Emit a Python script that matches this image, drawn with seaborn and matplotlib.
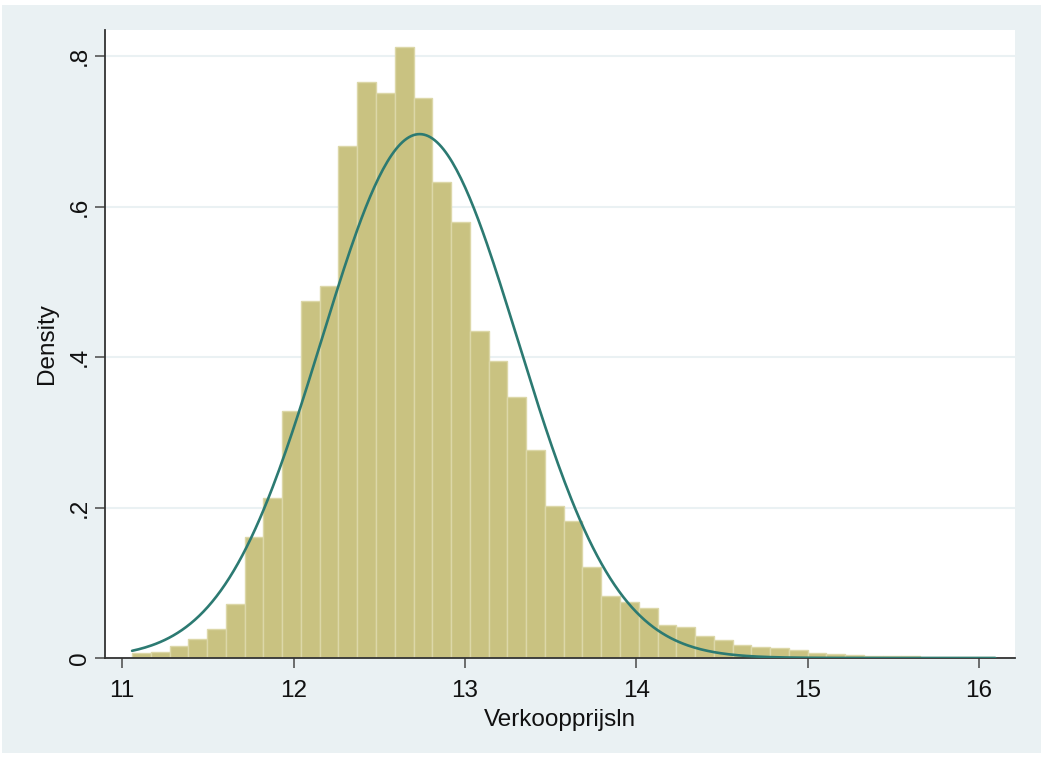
import numpy as np
import pandas as pd
import matplotlib
matplotlib.use("Agg")
import matplotlib.pyplot as plt
from matplotlib.patches import Rectangle
import seaborn as sns

# Histogram of log sale price (density scale), 46 equal-width bins
bin_start = 11.058
bin_width = 0.1095
density = [
    0.0062, 0.0084, 0.0164, 0.0257, 0.0385, 0.0713,
    0.1604, 0.2130, 0.3287, 0.4744, 0.4943,
    0.6808, 0.7659, 0.7504, 0.8124, 0.7438,
    0.6322, 0.5798, 0.4346, 0.3951, 0.3464,
    0.2764, 0.2020, 0.1820, 0.1205, 0.0828,
    0.0748, 0.0660, 0.0439, 0.0408, 0.0297,
    0.0235, 0.0173, 0.0150, 0.0129, 0.0106,
    0.0071, 0.0050, 0.0045, 0.0030, 0.0028,
    0.0025, 0.0015, 0.0013, 0.0012, 0.0015,
]

# Fitted normal distribution
mu = 12.736
sigma = 0.573

x_ticks = [11, 12, 13, 14, 15, 16]
y_ticks = [0, 0.2, 0.4, 0.6, 0.8]
y_ticklabels = ["0", ".2", ".4", ".6", ".8"]
x_label = "Verkoopprijsln"
y_label = "Density"

n_bins = len(density)
edges = [float(bin_start + bin_width * i) for i in range(n_bins + 1)]
centers = [(edges[i] + edges[i + 1]) / 2 for i in range(n_bins)]
hist_df = pd.DataFrame({"x": centers, "density": density})

x_curve = np.linspace(edges[0], edges[-1], 400)
y_curve = np.exp(-0.5 * ((x_curve - mu) / sigma) ** 2) / (sigma * np.sqrt(2 * np.pi))
curve_df = pd.DataFrame({"x": x_curve, "y": y_curve})

sns.set_theme(style="white")
plt.rcParams["font.family"] = ["Liberation Sans", "DejaVu Sans"]

W, H = 1043, 757
fig = plt.figure(figsize=(W / 100, H / 100), dpi=100)
fig.patch.set_facecolor("white")

# Graph region background (behind the plot area)
fig.patches.append(Rectangle((2 / W, 1 - 753 / H), 1039 / W, 748 / H,
                             transform=fig.transFigure, facecolor="#EAF1F3",
                             edgecolor="none", zorder=-5))

ax = fig.add_axes([105 / W, 1 - 658 / H, 910 / W, 628 / H])
ax.set_facecolor("white")

sns.histplot(data=hist_df, x="x", weights="density", bins=edges, stat="count",
             color="#C9C281", alpha=1.0, edgecolor="#DCD7A8", linewidth=1.0,
             ax=ax, zorder=2)
sns.lineplot(data=curve_df, x="x", y="y", color="#2C7A72", linewidth=1.9,
             ax=ax, zorder=3)

ax.set_xlim(10.90, 16.21)
ax.set_ylim(0, 0.8346)
ax.set_xticks(x_ticks)
ax.set_xticklabels([str(v) for v in x_ticks])
ax.set_yticks(y_ticks)
ax.set_yticklabels(y_ticklabels, rotation=90, va="center")

ax.yaxis.grid(True, color="#EAF1F3", linewidth=1.5)
ax.xaxis.grid(False)
ax.set_axisbelow(True)

for side in ["top", "right"]:
    ax.spines[side].set_visible(False)
for side in ["left", "bottom"]:
    ax.spines[side].set_color("#333333")
    ax.spines[side].set_linewidth(1.3)

ax.tick_params(axis="both", which="major", direction="out", length=7,
               width=1.2, color="#555555", labelsize=17.5, labelcolor="#111111",
               bottom=True, left=True)
ax.tick_params(axis="x", pad=9)
ax.tick_params(axis="y", pad=3)

ax.set_xlabel(x_label, fontsize=17.5, color="#111111", labelpad=5)
ax.set_ylabel(y_label, fontsize=17.5, color="#111111", labelpad=8)

fig.savefig("out.png", dpi=100, facecolor=fig.get_facecolor())
